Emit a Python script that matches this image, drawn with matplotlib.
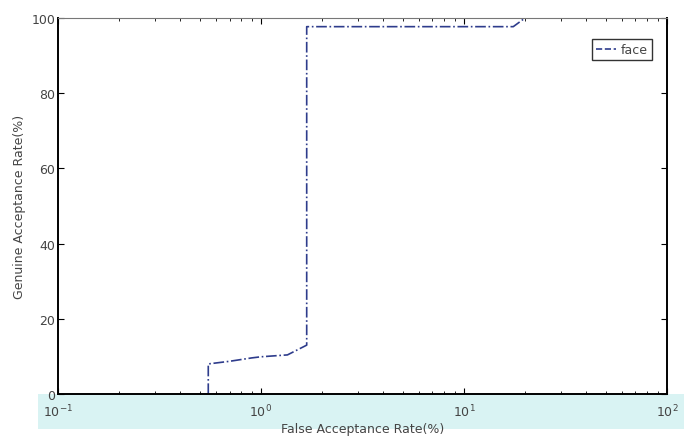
import matplotlib
matplotlib.use('Agg')
import matplotlib.pyplot as plt
from matplotlib.patches import Rectangle
from matplotlib.ticker import LogLocator, FixedLocator

# Data
far = [0.55, 0.55, 0.7, 0.9, 1.0, 1.35, 1.68, 1.68, 17.5, 20, 100]
gar = [0, 8.0, 8.7, 9.6, 9.9, 10.4, 13.0, 97.7, 97.7, 100, 100]
y_ticks = [0, 20, 40, 60, 80, 100]

fig = plt.figure(figsize=(6.84, 4.39), dpi=100)
ax = fig.add_axes([0.0848, 0.1002, 0.8902, 0.8565])

# light cyan band behind the x tick labels
fig.patches.append(Rectangle((38 / 684, 1 - 430 / 439), 1 - 38 / 684, 35 / 439,
                             transform=fig.transFigure, facecolor='#d9f3f3',
                             edgecolor='none', zorder=0))

ax.plot(far, gar, color='#2e3c8c', linestyle='-.', linewidth=1.2, label='face')
ax.set_xscale('log')
ax.set_xlim(0.1, 100)
ax.set_ylim(0, 100)
ax.yaxis.set_major_locator(FixedLocator(y_ticks))
ax.xaxis.set_major_locator(LogLocator(base=10))
ax.xaxis.set_minor_locator(LogLocator(base=10, subs=range(2, 10)))

ax.tick_params(which='both', direction='in', top=True, right=True,
               labelsize=9, labelcolor='#444444')
ax.tick_params(which='major', length=4)
ax.tick_params(which='minor', length=2)
ax.tick_params(axis='x', which='major', pad=6)
ax.tick_params(axis='y', which='major', pad=2)

for side in ['left', 'right', 'bottom']:
    ax.spines[side].set_linewidth(1.4)
ax.spines['top'].set_color('#777777')

ax.set_xlabel('False Acceptance Rate(%)', fontsize=9, color='#444444', labelpad=2)
ax.set_ylabel('Genuine Acceptance Rate(%)', fontsize=9, color='#444444', labelpad=4)

leg = ax.legend(loc='upper right', fontsize=9, fancybox=False, handlelength=1.6,
                handletextpad=0.4, borderpad=0.3, bbox_to_anchor=(0.985, 0.96))
leg.get_frame().set_edgecolor('black')
leg.get_frame().set_linewidth(1.0)
leg.get_lines()[0].set_linestyle('--')
for t in leg.get_texts():
    t.set_color('#444444')

ax.set_zorder(2)

plt.savefig('out.png', dpi=100)
